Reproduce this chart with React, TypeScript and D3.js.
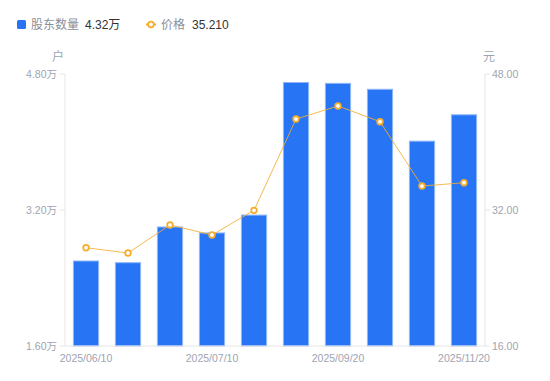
import React from "react";
import * as d3 from "d3";

const categories = [
  "2025/06/10", "2025/06/20", "2025/06/30", "2025/07/10", "2025/07/31",
  "2025/08/31", "2025/09/20", "2025/10/20", "2025/10/31", "2025/11/20",
];
const holders = [2.60, 2.58, 3.00, 2.93, 3.14, 4.70, 4.69, 4.62, 4.01, 4.32];
const prices = [27.56, 26.94, 30.24, 29.06, 31.96, 42.7, 44.24, 42.39, 34.82, 35.21];
const leftTicks = [1.6, 3.2, 4.8];
const rightTicks = [16, 32, 48];
const xLabelIdx = [0, 3, 6, 9];

const W = 550, H = 381;
const L = 65, R = 485, T = 74, B = 346;
const FONT = "'Liberation Sans', 'Noto Sans CJK SC', sans-serif";

export default function App() {
  const x = d3.scaleBand<string>().domain(categories).range([L, R]).paddingInner(0.4).paddingOuter(0.2);
  const yL = d3.scaleLinear().domain([1.6, 4.8]).range([B, T]);
  const yR = d3.scaleLinear().domain([16, 48]).range([B, T]);
  const cx = (c: string) => (x(c) as number) + x.bandwidth() / 2;
  const line = d3.line<number>().x((_, i) => cx(categories[i])).y((d) => yR(d));
  const axisColor = "#e6e6e6";
  const labelColor = "#a0a4b0";
  const orange = "#f6ad2e";

  return (
    <svg width={W} height={H} style={{ position: "absolute", left: 0, top: 0, fontFamily: FONT }}>
      {/* legend */}
      <rect x={17} y={20} width={9} height={9} rx={1.5} fill="#2775f5" />
      <text x={31} y={29} fontSize={12} fill="#8a8f99">股东数量</text>
      <text x={85} y={29} fontSize={12} fill="#333">4.32万</text>
      <line x1={146} x2={156} y1={24.5} y2={24.5} stroke={orange} strokeWidth={2} />
      <circle cx={151} cy={24.5} r={2.8} fill="#fff" stroke={orange} strokeWidth={1.8} />
      <text x={161} y={29} fontSize={12} fill="#8a8f99">价格</text>
      <text x={192} y={29} fontSize={12} fill="#333">35.210</text>

      {/* units */}
      <text x={58} y={61} fontSize={12} fill={labelColor} textAnchor="middle">户</text>
      <text x={489} y={61} fontSize={12} fill={labelColor} textAnchor="middle">元</text>

      {/* axes */}
      <line x1={L} x2={L} y1={T} y2={B} stroke={axisColor} />
      <line x1={R} x2={R} y1={T} y2={B} stroke={axisColor} />
      {leftTicks.map((t) => (
        <g key={"l" + t}>
          <line x1={L - 5} x2={L} y1={yL(t)} y2={yL(t)} stroke={axisColor} />
          <text x={L - 8} y={yL(t)} dy="0.35em" fontSize={10.5} fill={labelColor} textAnchor="end">
            {t.toFixed(2)}万
          </text>
        </g>
      ))}
      {rightTicks.map((t) => (
        <g key={"r" + t}>
          <line x1={R} x2={R + 5} y1={yR(t)} y2={yR(t)} stroke={axisColor} />
          <text x={R + 7} y={yR(t)} dy="0.35em" fontSize={10.5} fill={labelColor}>
            {t.toFixed(2)}
          </text>
        </g>
      ))}

      {/* bars */}
      {holders.map((v, i) => (
        <rect
          key={"b" + i}
          x={x(categories[i]) as number}
          y={yL(v)}
          width={x.bandwidth()}
          height={B - yL(v)}
          fill="#2775f5"
          stroke="#8fb6fa"
          strokeWidth={1}
        />
      ))}
      <line x1={L} x2={R} y1={B} y2={B} stroke={axisColor} />

      {xLabelIdx.map((i) => (
        <text key={"x" + i} x={cx(categories[i])} y={362} fontSize={10.5} fill={labelColor} textAnchor="middle">
          {categories[i]}
        </text>
      ))}

      {/* line */}
      <path d={line(prices) || ""} fill="none" stroke={orange} strokeWidth={1} strokeOpacity={0.85} />
      {prices.map((v, i) => (
        <circle key={"p" + i} cx={cx(categories[i])} cy={yR(v)} r={2.8} fill="#fff" stroke={orange} strokeWidth={1.8} />
      ))}
    </svg>
  );
}
